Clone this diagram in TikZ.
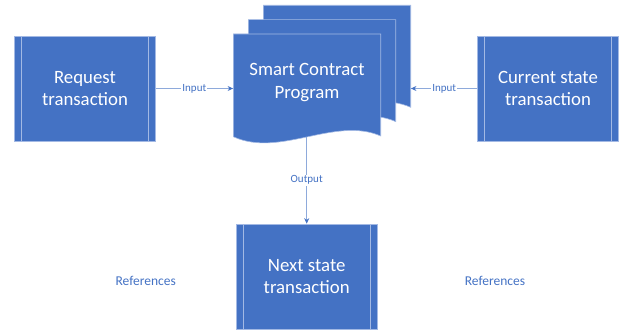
\documentclass[tikz,border=0pt]{standalone}
\usepackage{fontspec}
\setmainfont{Carlito}
\usetikzlibrary{arrows.meta}
\definecolor{boxblue}{HTML}{4472C4}
\definecolor{edgeblue}{HTML}{A3B9E4}
\definecolor{wireblue}{HTML}{8EAADB}
\tikzset{
  boxtext/.style={text=white, align=center, font=\fontsize{18.8}{22.7}\selectfont},
  subproc/.style={boxtext, fill=boxblue, draw=edgeblue, line width=0.6pt,
    minimum width=140.5pt, minimum height=105pt, inner sep=0pt,
    path picture={
      \draw[edgeblue, line width=0.6pt]
        ([xshift=7pt]path picture bounding box.north west) -- ([xshift=7pt]path picture bounding box.south west)
        ([xshift=-7pt]path picture bounding box.north east) -- ([xshift=-7pt]path picture bounding box.south east);
    }},
  sheet/.style={fill=boxblue, draw=edgeblue, line width=0.6pt},
  wire/.style={draw=wireblue, line width=0.8pt, -{Stealth[length=5.5pt,width=5pt,color=boxblue]}},
  wirelabel/.style={fill=white, inner sep=1.2pt, text=boxblue, font=\fontsize{11}{12}\selectfont},
  reflabel/.style={text=boxblue, font=\fontsize{13.5}{16}\selectfont},
  anchorbox/.style={inner sep=0pt, minimum width=#1}
}
% one sheet of the stacked document, top-left corner at the origin
\newcommand{\docsheet}{%
  \path[sheet] (0,0) -- (147.4,0) -- (147.4,102)
    .. controls (101.7,82) and (46.7,124) .. (0,102.7) -- cycle;}
\begin{document}
\begin{tikzpicture}[x=1pt, y=-1pt]
\useasboundingbox (0,0) rectangle (624,331);

% stacked program sheets, back to front
\begin{scope}[shift={(263.3,5.3)}]\docsheet\end{scope}
\begin{scope}[shift={(248.3,19.6)}]\docsheet\end{scope}
\begin{scope}[shift={(233.3,34)}]\docsheet\end{scope}

% reference frames for the front and back sheets
\node[anchorbox=147.4pt, minimum height=102.7pt] (front) at (307,85.35) {};
\node[anchorbox=147.4pt, minimum height=102pt] (back) at (337,56.3) {};
\node[boxtext] (prog) at (307,82.5) {Smart Contract\\Program};

% process boxes
\node[subproc] (req) at (85,88.5) {Request\\transaction};
\node[subproc] (cur) at (548,88.5) {Current state\\transaction};
\node[subproc] (next) at (306.7,276.5) {Next state\\transaction};

% connectors
\draw[wire] (req.east) -- (req.east -| front.west)
  node[midway, wirelabel] {Input};
\draw[wire] (cur.west) -- (cur.west -| back.east)
  node[midway, wirelabel] {Input};
\draw[wire] (next.north |- front.south) -- (next.north)
  node[midway, wirelabel] {Output};

% side notes
\node[reflabel] (refl) at (145.7,280.5) {References};
\node[reflabel] (refr) at (495,280.5) {References};
\end{tikzpicture}
\end{document}
